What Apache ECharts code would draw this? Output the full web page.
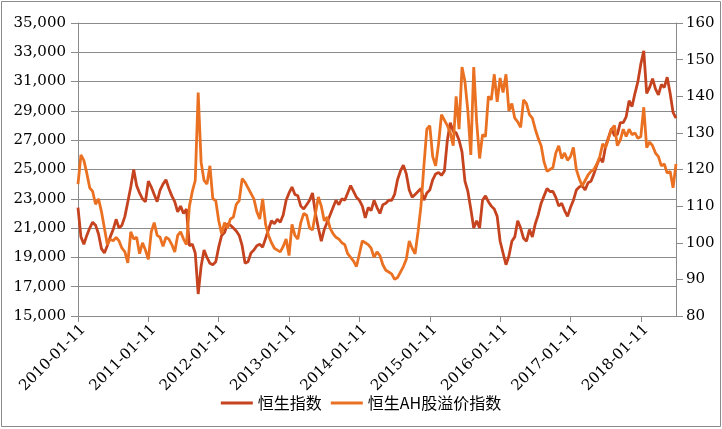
<!DOCTYPE html>
<html><head><meta charset="utf-8">
<script src="https://cdn.jsdelivr.net/npm/echarts@6/dist/echarts.min.js"></script>
<style>html,body{margin:0;padding:0;background:#fff}#c{width:722px;height:429px}</style>
</head><body><div id="c"></div>
<script>
// Tick labels for the x axis (one per year, starting 2010-01-11)
const xTickLabels = ['2010-01-11','2011-01-11','2012-01-11','2013-01-11','2014-01-11','2015-01-11','2016-01-11','2017-01-11','2018-01-11'];
// Values are sampled every half month (1/24 year) from 2010-01-11
const stepYears = 1 / 24;
const seriesNames = ['恒生指数', '恒生AH股溢价指数'];
// 恒生指数 (left axis)
const hsi = [
22400,20400,19900,20500,21000,21400,21200,20600,19600,19300,
19800,20400,20900,21600,21000,21200,21800,22800,23800,25000,
23900,23400,23000,22800,24200,23800,23300,22800,23600,24000,
24300,23700,23200,22800,22100,22500,22000,22300,19800,19900,
19300,16500,18400,19500,19000,18600,18500,18700,19700,20500,
20700,21300,21200,21000,20800,20500,19800,18600,18700,19300,
19500,19800,19900,19700,20300,20900,21500,21300,21600,21400,
21900,22900,23400,23800,23300,23200,22500,22300,22600,22900,
23400,22000,21000,20100,20900,21400,21900,22400,22900,22600,
23000,22900,23400,23900,23500,23100,22900,22500,21700,22400,
22200,22900,22400,22000,22600,22700,22900,22900,23300,24300,
24900,25300,24700,23600,23100,23300,23500,23700,22900,23400,
23600,24300,24700,24800,24600,24900,27000,28200,27600,27500,
27000,26200,24200,23500,22300,21000,21500,21000,22900,23200,
22800,22500,22300,21800,20100,19300,18500,19100,20100,20400,
21500,21000,20300,20100,20900,20400,21300,21900,22700,23200,
23700,23500,23500,23100,22500,22700,22200,21800,22400,22900,
23600,23800,23900,23600,24100,24200,24700,25300,25800,25500,
26600,27200,27800,27300,27400,28200,28200,28600,29700,29300,
30200,31000,32200,33100,30200,30600,31200,30500,30100,30800,
30600,31300,30200,28900,28500
];
// 恒生AH股溢价指数 (right axis)
const ahPremium = [
116,124,122.5,119,115,114,110.5,112,108.5,104,
99.5,101,100.5,101.5,100.5,98.5,97.5,94.5,103,101,
101.5,97,100,98,95.5,103,105.5,102,101.5,99,
101.5,101,99.5,97.5,102,103,101,99.5,110,114,
117,141,122,117,116,121,112,111.5,106,102.5,
105.5,104,106.5,107,110.5,111.5,117.5,116.5,115,113.5,
112,108.5,106.5,112,105,102,100,98.5,98,97.5,
99,101,96.5,105,102,101,105.5,108,107.5,104,
103.5,108,112.5,110,106,107,104,102.5,101.5,101,
100,99.5,97,96,95,93.5,97,100.5,100,99.5,
98.5,96,97.5,96.5,94,92.5,92,91.5,90,90.5,
92,93.5,95.5,100.5,98.5,97,103,110,121,131,
132,123.5,121,127,135,133.5,132,130,126.5,140,
131,148,144,136,124,148,133,123,129.5,129,
140,139,146,138.5,145,141,146,136,138,134,
133,131.5,139,138,135,134,131,128.5,126.5,122,
119.5,120,120.5,124.5,126.5,123,124.5,122.5,123.5,126,
120,117.5,115.5,117,118.5,119.5,120,121.5,123.5,127,
126,128.5,131,132,126.5,128,131,129,131,129.5,
130,128.5,129,137,126,127.5,126.5,124.5,123.5,121,
121.5,119,119.5,115,121.5
];
const leftAxisTicks = { min: 15000, max: 35000, interval: 2000 };
const rightAxisTicks = { min: 80, max: 160, interval: 10 };

const gray = '#8a8a8a';
const serif = 'DejaVu Serif';
const chart = echarts.init(document.getElementById('c'), null, { renderer: 'canvas' });
const xTickValues = xTickLabels.map((_, i) => i);
chart.setOption({
  animation: false,
  backgroundColor: '#fff',
  graphic: [{
    type: 'rect', silent: true,
    shape: { x: 1.5, y: 1.5, width: 719, height: 425 },
    style: { fill: 'none', stroke: gray, lineWidth: 1 }
  }],
  grid: { left: 78, right: 46, top: 23, bottom: 113, containLabel: false },
  legend: {
    bottom: 13, left: 'center',
    icon: 'rect', itemWidth: 32, itemHeight: 3, itemGap: 9,
    textStyle: { fontFamily: 'Noto Sans CJK SC', fontSize: 16, color: '#000' },
    data: seriesNames
  },
  xAxis: {
    type: 'value', min: 0, max: (hsi.length - 1) * stepYears,
    axisLine: { show: true, lineStyle: { color: gray, width: 1 } },
    axisTick: { show: true, customValues: xTickValues, length: 6, lineStyle: { color: gray } },
    splitLine: { show: false },
    axisLabel: {
      customValues: xTickValues, rotate: 45, margin: 6, verticalAlign: 'top',
      formatter: v => xTickLabels[Math.round(v)] || '',
      fontFamily: serif, fontSize: 15, color: '#000'
    }
  },
  yAxis: [{
    type: 'value', position: 'left',
    min: leftAxisTicks.min, max: leftAxisTicks.max, interval: leftAxisTicks.interval,
    axisLine: { show: true, lineStyle: { color: gray } },
    axisTick: { show: true, length: 7, lineStyle: { color: gray } },
    splitLine: { show: true, lineStyle: { color: gray, width: 1 } },
    axisLabel: { margin: 12, fontFamily: serif, fontSize: 15, color: '#000',
      formatter: v => v.toLocaleString('en-US') }
  }, {
    type: 'value', position: 'right',
    min: rightAxisTicks.min, max: rightAxisTicks.max, interval: rightAxisTicks.interval,
    axisLine: { show: true, lineStyle: { color: gray } },
    axisTick: { show: true, length: 7, lineStyle: { color: gray } },
    splitLine: { show: false },
    axisLabel: { margin: 10, fontFamily: serif, fontSize: 15, color: '#000' }
  }],
  series: [{
    name: seriesNames[0], type: 'line', yAxisIndex: 0,
    symbol: 'none', showSymbol: false,
    data: hsi.map((v, i) => [i * stepYears, v]),
    itemStyle: { color: '#C5431F' },
    lineStyle: { color: '#C5431F', width: 2.8 }
  }, {
    name: seriesNames[1], type: 'line', yAxisIndex: 1,
    symbol: 'none', showSymbol: false,
    data: ahPremium.map((v, i) => [i * stepYears, v]),
    itemStyle: { color: '#EB7122' },
    lineStyle: { color: '#EB7122', width: 2.8 }
  }]
});
</script></body></html>
